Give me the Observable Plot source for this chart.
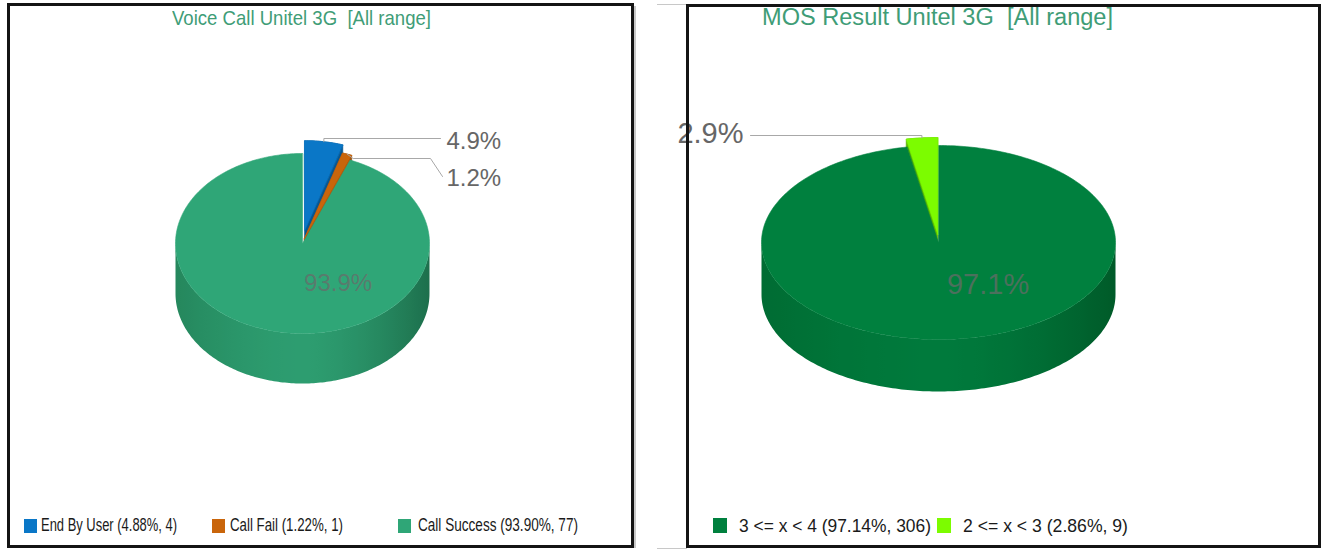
<!DOCTYPE html>
<html>
<head>
<meta charset="utf-8">
<script src="https://cdn.jsdelivr.net/npm/d3@7"></script>
<script src="https://cdn.jsdelivr.net/npm/@observablehq/plot@0.6"></script>
<style>
html,body{margin:0;padding:0;background:#fff;}
body{width:1324px;height:550px;position:relative;overflow:hidden;font-family:"Liberation Sans",Arial,sans-serif;}
.frame{position:absolute;border:3px solid #141414;box-sizing:border-box;pointer-events:none;z-index:10;}
.txt{position:absolute;white-space:pre;line-height:1;transform-origin:0 0;font-family:"Liberation Sans",Arial,sans-serif;}
.sw{position:absolute;}
.chart{position:absolute;z-index:1;}
.deco{position:absolute;background:#c8c8c8;}
</style>
</head>
<body>
<script>
// ---------- data ----------
const callCategories = ["End By User", "Call Fail", "Call Success"];
const callCounts = [4, 1, 77];
const callPercents = [4.88, 1.22, 93.90];
const callPieLabels = ["4.9%", "1.2%", "93.9%"];

const mosCategories = ["3 <= x < 4", "2 <= x < 3"];
const mosCounts = [306, 9];
const mosPercents = [97.14, 2.86];
const mosPieLabels = ["97.1%", "2.9%"];

const chartTitles = ["Voice Call Unitel 3G  [All range]", "MOS Result Unitel 3G  [All range]"];

// ---------- styles ----------
const callColors = ["#0a77c7", "#c9650b", "#2fa677"];
const mosColors = ["#00803e", "#7cfc00"];
const titleColor = "#3f9d77";
const labelColor = "#666666";

const rad = d => d * Math.PI / 180;
function pt(g, a, dx = 0, dy = 0) {
  return [g.cx + g.rx * Math.sin(rad(a)) + dx, g.cy - g.ry * Math.cos(rad(a)) + dy];
}
function arcPts(g, a0, a1, dx = 0, dy = 0) {
  const n = Math.max(2, Math.ceil(a1 - a0));
  return d3.range(n + 1).map(k => pt(g, a0 + (a1 - a0) * k / n, dx, dy));
}

function placeText(str, o) {
  const el = document.createElement("div");
  el.className = "txt";
  el.textContent = str;
  el.style.fontSize = o.size + "px";
  el.style.color = o.color;
  el.style.zIndex = o.z || 2;
  document.body.appendChild(el);
  const nat = el.getBoundingClientRect().width;
  const sx = o.width ? o.width / nat : 1;
  el.style.left = o.x + "px";
  el.style.top = (o.baseline - 0.8465 * o.size) + "px";
  el.style.transform = `scaleX(${sx})`;
  return el;
}

function buildPanel(cfg) {
  const g = cfg.geom;
  const b = cfg.box;
  const total = d3.sum(cfg.counts);
  let acc = 0;
  const slices = cfg.counts.map((c, i) => {
    const a0 = acc / total * 360; acc += c; const a1 = acc / total * 360;
    const am = (a0 + a1) / 2, e = cfg.explode[i];
    return {i, a0, a1, am, dx: e * Math.sin(rad(am)), dy: -e * Math.cos(rad(am)), color: cfg.colors[i]};
  });
  const bodies = [], walls = [], tops = [], expTops = [];
  let id = 0;
  const push = (arr, poly, col) => { id++; poly.forEach(([x, y]) => arr.push({id, x, y, col})); };
  const wallCol = t => t >= 0
    ? d3.interpolateRgb(cfg.wall.mid, cfg.wall.right)(Math.pow(t, 1.6))
    : d3.interpolateRgb(cfg.wall.mid, cfg.wall.left)(Math.pow(-t, 1.6));
  for (const s of slices) {
    const top = [[g.cx + s.dx, g.cy + s.dy], ...arcPts(g, s.a0, s.a1, s.dx, s.dy)];
    if (cfg.explode[s.i] > 0) {
      const hull = d3.polygonHull(top.concat(top.map(([x, y]) => [x, y + g.depth])));
      push(bodies, hull, d3.color(s.color).darker(0.9).formatHex());
      push(expTops, top, s.color);
    } else {
      const lo = Math.max(s.a0, 90), hi = Math.min(s.a1, 270);
      if (hi > lo) {
        const upper = arcPts(g, lo, hi);
        const lower = upper.map(([x, y]) => [x, y + g.depth]).reverse();
        push(walls, upper.concat(lower), "wall");
      }
      push(tops, top, s.color);
    }
  }
  const leaders = [], outer = [], inner = [];
  slices.forEach(s => {
    const txt = cfg.pieLabels[s.i];
    if (cfg.explode[s.i] > 0) {
      const A = pt(g, s.am, s.dx, s.dy);
      const L = cfg.leader(s.i, A);
      L.points.forEach(([x, y]) => leaders.push({id: s.i, x, y}));
      outer.push({x: L.text[0], y: L.text[1], text: txt});
    } else {
      inner.push({x: g.cx + 0.28 * g.rx, y: g.cy + 0.44 * g.ry, text: txt});
    }
  });
  const gradId = cfg.id + "-wall";
  const polyOpts = {x: "x", y: "y", z: "id", fill: "col", stroke: "col", strokeWidth: 0.6, curve: "linear-closed"};
  const svg = Plot.plot({
    width: b.w, height: b.h, margin: 0,
    x: {domain: [b.x, b.x + b.w], range: [0, b.w], axis: null},
    y: {domain: [b.y, b.y + b.h], range: [0, b.h], axis: null},
    color: {type: "identity"},
    style: {overflow: "visible", background: "transparent", fontFamily: "Liberation Sans, Arial, sans-serif"},
    marks: [
      Plot.line(bodies, polyOpts),
      Plot.line(walls, {x: "x", y: "y", z: "id", fill: `url(#${gradId})`, stroke: "none", curve: "linear-closed"}),
      Plot.line(tops, polyOpts),
      Plot.line(expTops, polyOpts),
      Plot.line(leaders, {x: "x", y: "y", z: "id", stroke: "#a8a8a8", strokeWidth: 1}),
      Plot.text(outer, {x: "x", y: "y", text: "text", textAnchor: cfg.outerAnchor, fontSize: cfg.labelSize, fill: labelColor}),
      Plot.text(inner, {x: "x", y: "y", text: "text", fontSize: cfg.labelSize, fill: "#6a6a6a", fillOpacity: 0.72})
    ]
  });
  // horizontal shading gradient for the pie's front wall
  const NS = "http://www.w3.org/2000/svg";
  const defs = document.createElementNS(NS, "defs");
  const lg = document.createElementNS(NS, "linearGradient");
  lg.setAttribute("id", gradId);
  lg.setAttribute("gradientUnits", "userSpaceOnUse");
  lg.setAttribute("x1", g.cx - g.rx - b.x); lg.setAttribute("x2", g.cx + g.rx - b.x);
  lg.setAttribute("y1", 0); lg.setAttribute("y2", 0);
  d3.range(41).forEach(k => {
    const f = k / 40;
    const st = document.createElementNS(NS, "stop");
    st.setAttribute("offset", f);
    st.setAttribute("stop-color", wallCol(2 * f - 1));
    lg.appendChild(st);
  });
  defs.appendChild(lg);
  svg.insertBefore(defs, svg.firstChild);

  const holder = document.createElement("div");
  holder.className = "chart";
  holder.style.left = b.x + "px"; holder.style.top = b.y + "px";
  holder.appendChild(svg);
  document.body.appendChild(holder);

  placeText(cfg.title, {x: cfg.titleBox.x, baseline: cfg.titleBox.baseline, size: cfg.titleBox.size, width: cfg.titleBox.width, color: titleColor});

  const leg = cfg.legend;
  cfg.categories.forEach((c, i) => {
    const it = leg.items[i];
    const sq = document.createElement("div");
    sq.className = "sw";
    Object.assign(sq.style, {left: it.sx + "px", top: leg.sq.y + "px", width: leg.sq.w + "px", height: leg.sq.h + "px", background: cfg.colors[i]});
    document.body.appendChild(sq);
    placeText(`${c} (${cfg.percents[i].toFixed(2)}%, ${cfg.counts[i]})`, {x: it.tx, baseline: leg.baseline, size: leg.size, width: it.tw, color: "#1a1a1a"});
  });

  const f = document.createElement("div");
  f.className = "frame";
  Object.assign(f.style, {left: cfg.frame.x + "px", top: cfg.frame.y + "px", width: cfg.frame.w + "px", height: cfg.frame.h + "px"});
  document.body.appendChild(f);
}

buildPanel({
  id: "call",
  categories: callCategories, counts: callCounts, percents: callPercents, pieLabels: callPieLabels,
  colors: callColors, title: chartTitles[0],
  frame: {x: 7, y: 3, w: 627, h: 545},
  box: {x: 10, y: 40, w: 621, h: 470},
  geom: {cx: 302, cy: 243, rx: 127, ry: 90, depth: 50},
  explode: [13, 5, 0],
  wall: {left: "#25875d", mid: "#2d9d70", right: "#1d6f4c"},
  titleBox: {x: 172, baseline: 25, size: 21, width: 259},
  labelSize: 24, outerAnchor: "start",
  leader: (i, A) => i === 0
    ? {points: [A, [A[0], 138], [440, 138]], text: [446, 141]}
    : {points: [A, [A[0] + 6, 158], [430, 158], [442, 176]], text: [446, 177.5]},
  legend: {size: 17.5, baseline: 532, sq: {y: 519, w: 13, h: 14},
    items: [{sx: 24, tx: 41, tw: 136}, {sx: 212, tx: 230, tw: 113}, {sx: 398, tx: 418, tw: 160}]}
});

buildPanel({
  id: "mos",
  categories: mosCategories, counts: mosCounts, percents: mosPercents, pieLabels: mosPieLabels,
  colors: mosColors, title: chartTitles[1],
  frame: {x: 686, y: 4, w: 635, h: 544},
  box: {x: 689, y: 40, w: 629, h: 470},
  geom: {cx: 938, cy: 242, rx: 177, ry: 97, depth: 52},
  explode: [0, 8],
  wall: {left: "#006c33", mid: "#007a3c", right: "#005a29"},
  titleBox: {x: 762, baseline: 26, size: 23.5, width: 351},
  labelSize: 29, outerAnchor: "end",
  leader: (i, A) => ({points: [A, [A[0], 135], [750, 135]], text: [743, 133]}),
  legend: {size: 18.5, baseline: 533, sq: {y: 518, w: 14, h: 15},
    items: [{sx: 713, tx: 739, tw: 192}, {sx: 937, tx: 963, tw: 165}]}
});

[[657, 4, 30, 1], [634, 6, 2, 542], [657, 548, 30, 1]].forEach(([x, y, w, h]) => {
  const d = document.createElement("div");
  d.className = "deco";
  Object.assign(d.style, {left: x + "px", top: y + "px", width: w + "px", height: h + "px"});
  document.body.appendChild(d);
});
</script>
</body>
</html>
